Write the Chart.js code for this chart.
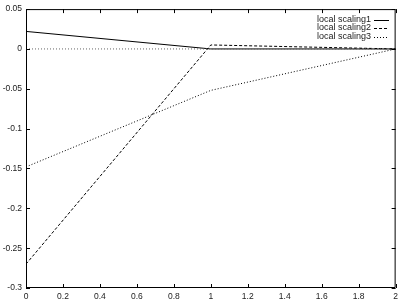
<!DOCTYPE html>
<html>
<head>
<meta charset="utf-8">
<script src="https://cdn.jsdelivr.net/npm/chart.js@4"></script>
<style>
  html, body { margin: 0; padding: 0; background: #fff; }
  #wrap { width: 402px; height: 305px; }
</style>
</head>
<body>
<div id="wrap"><canvas id="chart" width="402" height="305"></canvas></div>
<script>
// Data
const xValues = [0, 1, 2];
const scaling1 = [0.022, 0.0, 0.0];
const scaling2 = [-0.27, 0.005, 0.0];
const scaling3 = [-0.148, -0.052, 0.0];
const seriesLabels = ["local scaling1", "local scaling2", "local scaling3"];
const xTicks = [0, 0.2, 0.4, 0.6, 0.8, 1, 1.2, 1.4, 1.6, 1.8, 2];
const yTicks = [-0.3, -0.25, -0.2, -0.15, -0.1, -0.05, 0, 0.05];

const FONT = "Liberation Sans, Arial, sans-serif";

function toPoints(ys) {
  return xValues.map((x, i) => ({ x: x, y: ys[i] }));
}

const dashes = [[], [3, 2], [1, 2]];

// Frame with inward ticks on all four sides, like gnuplot
const framePlugin = {
  id: "frame",
  afterDatasetsDraw(chart) {
    const { ctx, chartArea: a, scales } = chart;
    ctx.save();
    ctx.strokeStyle = "#000";
    ctx.lineWidth = 1;
    ctx.setLineDash([]);
    ctx.beginPath();
    ctx.rect(a.left + 0.5, a.top + 0.5, a.right - a.left - 1, a.bottom - a.top - 1);
    const t = 4;
    xTicks.forEach(v => {
      const px = Math.round(scales.x.getPixelForValue(v)) + 0.5;
      ctx.moveTo(px, a.bottom); ctx.lineTo(px, a.bottom - t);
      ctx.moveTo(px, a.top); ctx.lineTo(px, a.top + t);
    });
    yTicks.forEach(v => {
      const py = Math.round(scales.y.getPixelForValue(v)) + 0.5;
      ctx.moveTo(a.left, py); ctx.lineTo(a.left + t, py);
      ctx.moveTo(a.right, py); ctx.lineTo(a.right - t, py);
    });
    ctx.stroke();

    // key, top right, text right aligned with sample after it
    ctx.font = "9px " + FONT;
    ctx.fillStyle = "#222";
    ctx.textAlign = "right";
    ctx.textBaseline = "middle";
    seriesLabels.forEach((label, i) => {
      const y = 19.5 + i * 8.5;
      ctx.fillText(label, 371, y);
      ctx.beginPath();
      ctx.setLineDash(dashes[i]);
      ctx.moveTo(374, Math.round(y) + 0.5);
      ctx.lineTo(389, Math.round(y) + 0.5);
      ctx.stroke();
    });
    ctx.restore();
  }
};

function numLabel(v) {
  return String(parseFloat(Number(v).toFixed(3)));
}

new Chart(document.getElementById("chart"), {
  type: "scatter",
  data: {
    datasets: [
      {
        label: "zero",
        data: [{ x: 0, y: 0 }, { x: 2, y: 0 }],
        showLine: true,
        borderColor: "#666",
        borderWidth: 1,
        borderDash: [1, 2],
        pointRadius: 0
      },
      {
        label: seriesLabels[0],
        data: toPoints(scaling1),
        showLine: true,
        borderColor: "#000",
        borderWidth: 1,
        pointRadius: 0
      },
      {
        label: seriesLabels[1],
        data: toPoints(scaling2),
        showLine: true,
        borderColor: "#000",
        borderWidth: 1,
        borderDash: dashes[1],
        pointRadius: 0
      },
      {
        label: seriesLabels[2],
        data: toPoints(scaling3),
        showLine: true,
        borderColor: "#000",
        borderWidth: 1,
        borderDash: dashes[2],
        pointRadius: 0
      }
    ]
  },
  options: {
    responsive: false,
    animation: false,
    layout: { padding: { top: 7, right: 4, left: 0, bottom: 0 } },
    plugins: {
      legend: { display: false },
      tooltip: { enabled: false }
    },
    scales: {
      x: {
        type: "linear",
        min: 0,
        max: 2,
        afterBuildTicks: s => { s.ticks = xTicks.map(v => ({ value: v })); },
        afterFit: s => { s.height = 17; },
        grid: { display: false, drawTicks: false },
        border: { display: false },
        ticks: {
          padding: 4,
          color: "#222",
          font: { family: FONT, size: 8.5 },
          maxRotation: 0,
          callback: numLabel
        }
      },
      y: {
        type: "linear",
        min: -0.3,
        max: 0.05,
        afterBuildTicks: s => { s.ticks = yTicks.map(v => ({ value: v })); },
        afterFit: s => { s.width = 26; },
        grid: { display: false, drawTicks: false },
        border: { display: false },
        ticks: {
          padding: 4,
          color: "#222",
          font: { family: FONT, size: 8.5 },
          callback: numLabel
        }
      }
    }
  },
  plugins: [framePlugin]
});
</script>
</body>
</html>
